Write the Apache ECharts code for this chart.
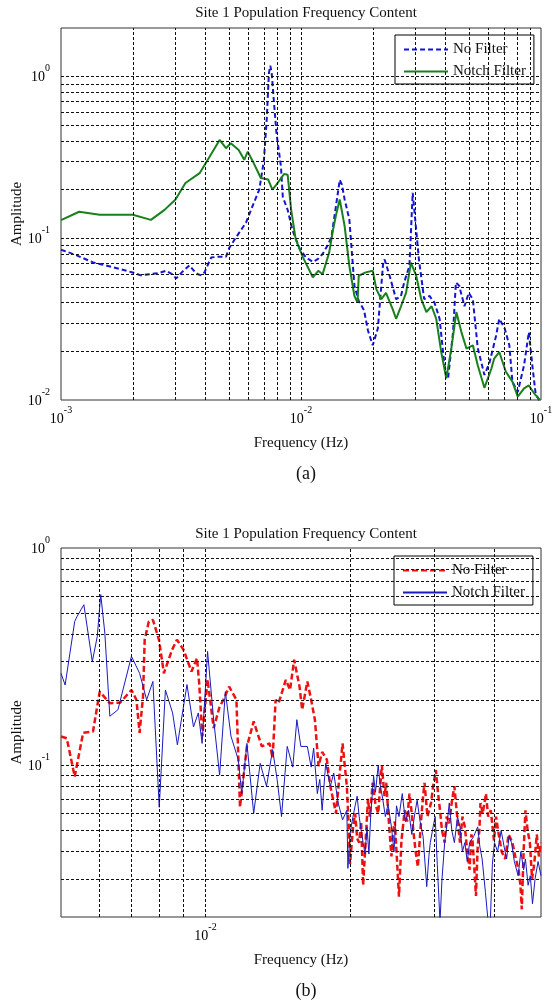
<!DOCTYPE html>
<html>
<head>
<meta charset="utf-8">
<script src="https://cdn.jsdelivr.net/npm/echarts@6/dist/echarts.min.js"></script>
<style>
html,body{margin:0;padding:0;background:#fff;}
#chart{width:553px;height:1005px;}
</style>
</head>
<body>
<div id="chart"></div>
<script>
// ---------- Data: chart (a) ----------
const aNoFilterFreq = [0.00100,0.00115,0.00136,0.00160,0.00199,0.00215,0.00234,0.00255,0.00274,0.00290,0.00302,0.00320,0.00343,0.00358,0.00372,0.00385,0.00396,0.00422,0.00450,0.00487,0.00503,0.00540,0.00590,0.00630,0.00670,0.00700,0.00720,0.00735,0.00745,0.00755,0.00770,0.00790,0.00825,0.00840,0.00880,0.00920,0.00988,0.01050,0.01120,0.01170,0.01230,0.01300,0.01340,0.01400,0.01450,0.01480,0.01520,0.01590,0.01670,0.01740,0.01830,0.01900,0.01990,0.02090,0.02200,0.02230,0.02340,0.02490,0.02610,0.02690,0.02830,0.02920,0.03000,0.03100,0.03260,0.03430,0.03600,0.03780,0.03960,0.04100,0.04300,0.04420,0.04560,0.04800,0.05000,0.05200,0.05450,0.05810,0.06100,0.06500,0.06700,0.07060,0.07380,0.07600,0.08000,0.08500,0.08900,0.09200,0.09500,0.10000];
const aNoFilterAmp  = [0.085,0.079,0.071,0.067,0.0615,0.059,0.060,0.061,0.063,0.060,0.0565,0.062,0.068,0.063,0.060,0.059,0.0616,0.076,0.077,0.077,0.0875,0.103,0.125,0.16,0.20,0.30,0.55,1.05,1.17,1.05,0.72,0.45,0.278,0.18,0.15,0.113,0.086,0.076,0.0715,0.074,0.080,0.092,0.103,0.16,0.23,0.215,0.174,0.131,0.0509,0.041,0.036,0.027,0.0218,0.0277,0.0707,0.074,0.0587,0.042,0.044,0.0533,0.0676,0.191,0.125,0.074,0.042,0.044,0.040,0.0318,0.0164,0.0136,0.0263,0.0533,0.051,0.038,0.046,0.042,0.021,0.0143,0.017,0.025,0.0318,0.0277,0.0218,0.013,0.0112,0.0164,0.0263,0.0164,0.0109,0.0095];
const aNotchFreq = [0.00100,0.00119,0.00145,0.00199,0.00237,0.00270,0.00300,0.00330,0.00378,0.00416,0.00458,0.00487,0.00510,0.00550,0.00580,0.00600,0.00630,0.00680,0.00730,0.00760,0.00790,0.00850,0.00880,0.00910,0.00950,0.01020,0.01120,0.01180,0.01230,0.01310,0.01360,0.01400,0.01450,0.01520,0.01590,0.01670,0.01720,0.01740,0.01860,0.01990,0.02060,0.02160,0.02260,0.02410,0.02490,0.02610,0.02740,0.02870,0.02920,0.03020,0.03170,0.03330,0.03500,0.03660,0.03840,0.04030,0.04230,0.04440,0.04660,0.04890,0.05200,0.05450,0.05810,0.06210,0.06380,0.06700,0.07130,0.07600,0.08000,0.08500,0.08900,0.09400,0.09900];
const aNotchAmp  = [0.1296,0.146,0.140,0.140,0.130,0.150,0.174,0.220,0.253,0.320,0.406,0.361,0.387,0.352,0.306,0.344,0.299,0.236,0.231,0.200,0.215,0.250,0.247,0.150,0.099,0.076,0.0574,0.063,0.060,0.0816,0.113,0.140,0.174,0.119,0.0676,0.044,0.040,0.0587,0.0616,0.063,0.0485,0.042,0.046,0.0365,0.0318,0.038,0.046,0.0707,0.069,0.0587,0.042,0.035,0.038,0.0318,0.0198,0.0136,0.0208,0.035,0.0263,0.0208,0.0218,0.0164,0.0119,0.0156,0.018,0.0198,0.0150,0.013,0.0105,0.0118,0.0123,0.0109,0.0100];

// ---------- Data: chart (b) ----------
const bNoFilterFreq = [0.00500,0.00514,0.00534,0.00556,0.00583,0.00602,0.00632,0.00664,0.00701,0.00718,0.00729,0.00741,0.00747,0.00762,0.00777,0.00800,0.00819,0.00852,0.00872,0.00900,0.00935,0.00960,0.00970,0.00985,0.01010,0.01040,0.01070,0.01090,0.01120,0.01160,0.01180,0.01220,0.01260,0.01310,0.01360,0.01380,0.01400,0.01420,0.01470,0.01500,0.01530,0.01570,0.01590,0.01630,0.01660,0.01690,0.01720,0.01750,0.01790,0.01820,0.01870,0.01930,
  0.01970,0.01990,0.02000,0.02030,0.02050,0.02070,0.02090,0.02110,0.02130,0.02160,0.02180,0.02200,0.02230,0.02260,0.02290,0.02310,0.02330,0.02360,0.02380,0.02410,0.02440,0.02460,0.02480,0.02500,0.02530,0.02560,0.02600,0.02630,0.02660,0.02690,0.02710,0.02740,0.02770,0.02800,0.02820,0.02840,0.02860,0.02900,0.02950,0.02980,0.03020,0.03050,0.03080,0.03110,0.03150,0.03180,0.03220,0.03260,0.03300,0.03340,0.03390,0.03430,0.03470,0.03510,0.03550,0.03580,0.03600,0.03630,0.03660,0.03690,0.03720,0.03740,0.03780,0.03840,0.03880,0.03930,0.03990,0.04030,0.04070,0.04140,0.04210,0.04280,0.04360,0.04420,0.04490,0.04530,0.04560,0.04600,0.04640,0.04690,0.04740,0.04790,0.04840,0.04900,0.04950,0.05000];
const bNoFilterAmp  = [0.1355,0.133,0.0886,0.141,0.143,0.218,0.193,0.194,0.222,0.200,0.141,0.207,0.378,0.459,0.467,0.378,0.265,0.340,0.378,0.340,0.270,0.311,0.240,0.136,0.248,0.148,0.186,0.200,0.230,0.200,0.064,0.122,0.159,0.122,0.126,0.108,0.200,0.193,0.247,0.222,0.306,0.230,0.180,0.243,0.200,0.162,0.099,0.115,0.106,0.080,0.060,0.126,
  0.080,0.050,0.035,0.052,0.060,0.046,0.044,0.055,0.028,0.048,0.070,0.058,0.083,0.066,0.060,0.078,0.100,0.072,0.083,0.055,0.038,0.050,0.055,0.040,0.0248,0.045,0.062,0.055,0.074,0.060,0.050,0.040,0.034,0.048,0.060,0.072,0.083,0.058,0.067,0.080,0.095,0.075,0.062,0.050,0.044,0.058,0.054,0.068,0.080,0.060,0.044,0.058,0.052,0.040,0.033,0.048,0.045,0.034,0.025,0.042,0.050,0.067,0.060,0.074,0.058,0.062,0.045,0.058,0.050,0.040,0.037,0.048,0.044,0.038,0.033,0.028,0.0217,0.040,0.062,0.050,0.044,0.030,0.035,0.048,0.038,0.044];
const bNotchFreq = [0.00500,0.00510,0.00534,0.00540,0.00558,0.00581,0.00595,0.00605,0.00617,0.00632,0.00657,0.00701,0.00729,0.00754,0.00777,0.00801,0.00825,0.00854,0.00874,0.00915,0.00944,0.00966,0.00984,0.01010,0.01040,0.01070,0.01100,0.01130,0.01170,0.01190,0.01220,0.01260,0.01300,0.01340,0.01380,0.01410,0.01440,0.01480,0.01520,0.01550,0.01580,0.01630,0.01660,0.01680,0.01710,0.01730,0.01750,0.01780,0.01820,0.01850,0.01890,0.01930,
  0.01970,0.01980,0.02000,0.02020,0.02050,0.02070,0.02090,0.02110,0.02130,0.02150,0.02170,0.02190,0.02210,0.02240,0.02260,0.02290,0.02310,0.02340,0.02370,0.02400,0.02440,0.02470,0.02500,0.02530,0.02570,0.02610,0.02650,0.02690,0.02730,0.02760,0.02800,0.02840,0.02890,0.02920,0.02940,0.02980,0.03010,0.03040,0.03080,0.03110,0.03150,0.03190,0.03220,0.03260,0.03300,0.03350,0.03390,0.03430,0.03470,0.03510,0.03550,0.03620,0.03690,0.03730,0.03770,0.03830,0.03880,0.03920,0.03960,0.04000,0.04060,0.04130,0.04190,0.04240,0.04290,0.04340,0.04400,0.04480,0.04540,0.04600,0.04640,0.04700,0.04750,0.04800,0.04860,0.04930,0.05000];
const bNotchAmp  = [0.265,0.234,0.459,0.484,0.548,0.300,0.391,0.610,0.406,0.168,0.180,0.317,0.265,0.200,0.243,0.064,0.222,0.174,0.124,0.235,0.150,0.174,0.126,0.334,0.162,0.090,0.218,0.136,0.106,0.074,0.126,0.060,0.102,0.080,0.118,0.086,0.058,0.122,0.098,0.162,0.122,0.122,0.098,0.120,0.074,0.086,0.062,0.102,0.080,0.092,0.067,0.056,
  0.062,0.0335,0.048,0.055,0.065,0.072,0.058,0.050,0.044,0.039,0.052,0.039,0.060,0.089,0.075,0.100,0.082,0.070,0.058,0.066,0.052,0.040,0.065,0.058,0.074,0.055,0.062,0.048,0.060,0.069,0.055,0.047,0.0276,0.038,0.044,0.052,0.058,0.035,0.019,0.030,0.044,0.055,0.067,0.050,0.044,0.058,0.052,0.040,0.044,0.036,0.044,0.047,0.052,0.042,0.037,0.026,0.019,0.019,0.035,0.044,0.040,0.050,0.042,0.037,0.047,0.044,0.036,0.031,0.040,0.033,0.037,0.028,0.031,0.023,0.030,0.036,0.031];

// ---------- Grid-line values (log decades) ----------
const aGridX = [0.002,0.003,0.004,0.005,0.006,0.007,0.008,0.009,0.01,0.02,0.03,0.04,0.05,0.06,0.07,0.08,0.09];
const aGridY = [0.02,0.03,0.04,0.05,0.06,0.07,0.08,0.09,0.1,0.2,0.3,0.4,0.5,0.6,0.7,0.8,0.9,1];
const bGridX = [0.006,0.007,0.008,0.009,0.01,0.02,0.03,0.04];
const bGridY = [0.03,0.04,0.05,0.06,0.07,0.08,0.09,0.1,0.2,0.3,0.4,0.5,0.6,0.7,0.8,0.9];

const titleText = 'Site 1 Population Frequency Content';
const xName = 'Frequency (Hz)';
const yName = 'Amplitude';

const SERIF = '"Liberation Serif","Times New Roman",serif';
const zip = (xs, ys) => xs.map((x, i) => [x, ys[i]]);

function powLabel(v) {
  const e = Math.log10(v);
  const r = Math.round(e);
  if (Math.abs(e - r) > 1e-6) return '';
  return '{b|10}{s|' + r + '}';
}
const richLabel = {
  b: {fontSize: 14, fontFamily: SERIF, color: '#000', lineHeight: 16, verticalAlign: 'bottom'},
  s: {fontSize: 10, fontFamily: SERIF, color: '#000', lineHeight: 10, verticalAlign: 'bottom', padding: [0, 0, 11, 0]}
};

function xAx(idx, min, max) {
  return {
    type: 'log', logBase: 10, gridIndex: idx, min: min, max: max,
    axisLine: {show: false}, axisTick: {show: false}, splitLine: {show: false},
    axisLabel: {formatter: powLabel, rich: richLabel, margin: 10},
    name: xName, nameLocation: 'middle', nameGap: 36, nameMoveOverlap: false,
    nameTextStyle: {fontFamily: SERIF, fontSize: 15, color: '#111'}
  };
}
function yAx(idx, min, max) {
  return {
    type: 'log', logBase: 10, gridIndex: idx, min: min, max: max,
    axisLine: {show: false}, axisTick: {show: false}, splitLine: {show: false},
    axisLabel: {formatter: powLabel, rich: richLabel, margin: 11, align: 'right'},
    name: yName, nameLocation: 'middle', nameGap: 36, nameRotate: 90, nameMoveOverlap: false,
    nameTextStyle: {fontFamily: SERIF, fontSize: 15, color: '#111'}
  };
}
function gridLines(idx, xs, ys) {
  return {
    type: 'line', xAxisIndex: idx, yAxisIndex: idx, data: [], silent: true, z: 1,
    markLine: {
      silent: true, symbol: ['none', 'none'], animation: false, precision: 12,
      label: {show: false},
      lineStyle: {color: '#111', width: 1, type: [3, 2]},
      emphasis: {disabled: true},
      data: xs.map(v => ({xAxis: v})).concat(ys.map(v => ({yAxis: v})))
    }
  };
}
function legendBox(names, left, top) {
  return {
    data: names, orient: 'vertical', left: left, top: top,
    itemWidth: 44, itemHeight: 14, itemGap: 7, padding: [7, 8, 5, 8],
    backgroundColor: '#fff', borderColor: '#000', borderWidth: 1, borderRadius: 0,
    selectedMode: false, formatter: n => n.trim(),
    itemStyle: {opacity: 0},
    textStyle: {fontFamily: SERIF, fontSize: 15, color: '#111'}
  };
}

const chart = echarts.init(document.getElementById('chart'), null, {renderer: 'canvas'});
const option = {
  animation: false,
  backgroundColor: '#fff',
  title: [
    {text: titleText, left: 301, top: 1, textAlign: 'center', textStyle: {fontFamily: SERIF, fontSize: 15, fontWeight: 'normal', color: '#111'}},
    {text: '(a)', left: 301, top: 460, textAlign: 'center', textStyle: {fontFamily: SERIF, fontSize: 18, fontWeight: 'normal', color: '#111'}},
    {text: titleText, left: 301, top: 522, textAlign: 'center', textStyle: {fontFamily: SERIF, fontSize: 15, fontWeight: 'normal', color: '#111'}},
    {text: '(b)', left: 301, top: 977, textAlign: 'center', textStyle: {fontFamily: SERIF, fontSize: 18, fontWeight: 'normal', color: '#111'}}
  ],
  grid: [
    {left: 61, top: 28, width: 480, height: 372, show: true, borderColor: '#333', borderWidth: 1, backgroundColor: '#fff', containLabel: false, outerBoundsMode: 'none'},
    {left: 61, top: 548, width: 480, height: 369, show: true, borderColor: '#333', borderWidth: 1, backgroundColor: '#fff', containLabel: false, outerBoundsMode: 'none'}
  ],
  xAxis: [xAx(0, 0.001, 0.1), xAx(1, 0.005, 0.05)],
  yAxis: [yAx(0, 0.01, 2), yAx(1, 0.02, 1)],
  legend: [
    legendBox(['No Filter', 'Notch Filter'], 395, 35),
    legendBox(['No Filter ', 'Notch Filter '], 394, 556)
  ],
  series: [
    gridLines(0, aGridX, aGridY),
    gridLines(1, bGridX, bGridY),
    {
      name: 'No Filter', type: 'line', xAxisIndex: 0, yAxisIndex: 0, z: 3,
      data: zip(aNoFilterFreq, aNoFilterAmp), showSymbol: false, symbol: 'none',
      lineStyle: {color: '#1414d2', width: 2, type: [5, 3]}, itemStyle: {color: '#1414d2'}
    },
    {
      name: 'Notch Filter', type: 'line', xAxisIndex: 0, yAxisIndex: 0, z: 4,
      data: zip(aNotchFreq, aNotchAmp), showSymbol: false, symbol: 'none',
      lineStyle: {color: '#18801c', width: 2}, itemStyle: {color: '#18801c'}
    },
    {
      name: 'No Filter ', type: 'line', xAxisIndex: 1, yAxisIndex: 1, z: 3,
      data: zip(bNoFilterFreq, bNoFilterAmp), showSymbol: false, symbol: 'none',
      lineStyle: {color: '#ee1111', width: 2.5, type: [6, 3]}, itemStyle: {color: '#ee1111'}
    },
    {
      name: 'Notch Filter ', type: 'line', xAxisIndex: 1, yAxisIndex: 1, z: 4,
      data: zip(bNotchFreq, bNotchAmp), showSymbol: false, symbol: 'none',
      lineStyle: {color: '#1a1ac0', width: 1}, itemStyle: {color: '#1a1ac0'}
    }
  ]
};
chart.setOption(option);
</script>
</body>
</html>
